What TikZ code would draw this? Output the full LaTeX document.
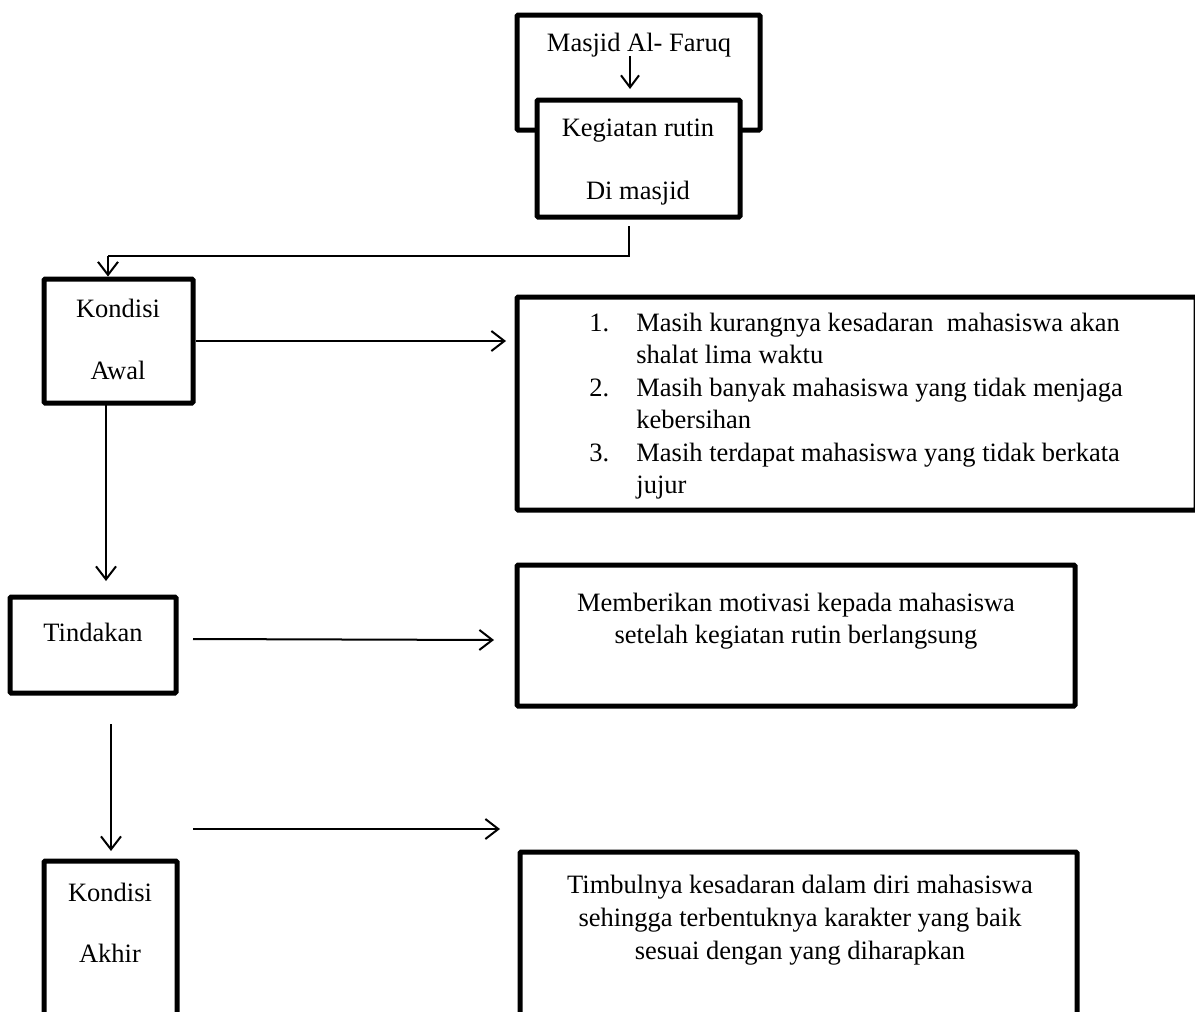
\documentclass[tikz,border=0pt]{standalone}
\usepackage{fontspec}
\setmainfont{Liberation Serif}
\usetikzlibrary{arrows.meta,calc}
\tikzset{
  boxnode/.style={draw=black, line width=2.5pt, fill=white, rounded corners=0.6pt, inner sep=0pt},
  lbl/.style={inner sep=0pt, font=\fontsize{13.25pt}{16.25pt}\selectfont},
  arr/.style={line width=1pt, -{Straight Barb[length=6.5pt,width=10pt,line width=1pt]}}
}
\begin{document}
\begin{tikzpicture}[x=0.5pt,y=-0.5pt]
\useasboundingbox (0,0) rectangle (1195,1012);
% boxes
\node[boxnode, minimum width=121.5pt, minimum height=57.5pt] (masjid) at (638.5,72.5) {};
\node[lbl] (tmasjid) at (639,45) {Masjid Al- Faruq};
\coordinate (m1) at (630,56);
\coordinate (m2) at (630,89);
\draw[arr, -{Straight Barb[length=6pt,width=9pt,line width=1pt]}] (m1) -- (m2);

\node[boxnode, minimum width=101.5pt, minimum height=58.5pt] (keg) at (638.5,158.5) {};
\node[lbl] (tkeg1) at (638,131) {Kegiatan rutin};
\node[lbl] (tkeg2) at (638,193) {Di masjid};

\node[boxnode, minimum width=74.5pt, minimum height=62pt] (awal) at (118.5,341) {};
\node[lbl] (tawal1) at (118,308) {Kondisi};
\node[lbl] (tawal2) at (118,370) {Awal};

\node[boxnode, minimum width=339.5pt, minimum height=106.5pt] (list) at (856.5,403.5) {};
\node[lbl, anchor=west, align=left] (tlist) at (589,406) {%
\makebox[23.5pt][l]{1.}Masih kurangnya kesadaran\ \ mahasiswa akan\\
\hspace*{23.5pt}shalat lima waktu\\
\makebox[23.5pt][l]{2.}Masih banyak mahasiswa yang tidak menjaga\\
\hspace*{23.5pt}kebersihan\\
\makebox[23.5pt][l]{3.}Masih terdapat mahasiswa yang tidak berkata\\
\hspace*{23.5pt}jujur};

\node[boxnode, minimum width=83pt, minimum height=48pt] (tind) at (93,645) {};
\node[lbl] (ttind) at (93,632) {Tindakan};

\node[boxnode, minimum width=279pt, minimum height=70.5pt] (motiv) at (796,635.5) {};
\node[lbl, align=center, font=\fontsize{13.25pt}{16pt}\selectfont] (tmotiv) at (796,621) {Memberikan motivasi kepada mahasiswa\\setelah kegiatan rutin berlangsung};

\node[boxnode, minimum width=66.5pt, minimum height=84.5pt] (akhir) at (110.5,945.5) {};
\node[lbl] (takhir1) at (110,892) {Kondisi};
\node[lbl] (takhir2) at (110,953) {Akhir};

\node[boxnode, minimum width=278.5pt, minimum height=89pt] (timb) at (798.5,941) {};
\node[lbl, align=center, font=\fontsize{13.25pt}{16.5pt}\selectfont] (ttimb) at (800,920) {Timbulnya kesadaran dalam diri mahasiswa\\sehingga terbentuknya karakter yang baik\\sesuai dengan yang diharapkan};

% connectors
\coordinate (k1) at (629,226);
\coordinate (k2) at (108,256);
\draw[line width=1pt] (k1) |- (k2);
\draw[arr] (k2) -- (k2 |- awal.north);

\coordinate (a1) at (506,341);
\draw[arr] (awal.east) -- (a1);

\coordinate (d1) at (106,403);
\coordinate (d2) at (106,581);
\draw[arr] (d1) -- (d2);

\coordinate (t1) at (193,639);
\coordinate (t2) at (494,640);
\draw[arr] (t1) -- (t2);

\coordinate (e1) at (111,724);
\coordinate (e2) at (111,851);
\draw[arr] (e1) -- (e2);

\coordinate (f1) at (193,829);
\coordinate (f2) at (500,829);
\draw[arr] (f1) -- (f2);
\end{tikzpicture}
\end{document}
